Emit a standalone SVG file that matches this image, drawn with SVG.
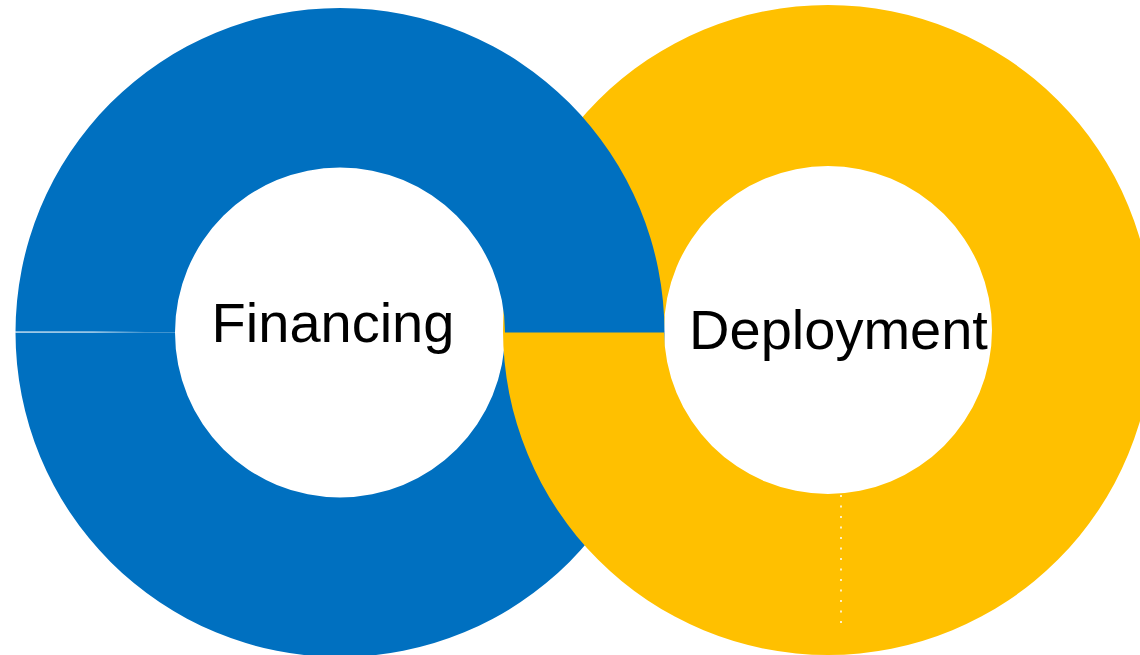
<svg xmlns="http://www.w3.org/2000/svg" width="1140" height="655" viewBox="0 0 1140 655">
  <style>
    .blue { fill: #0070C0; }
    .yellow { fill: #FFC000; }
    .label { font-family: "Liberation Sans", Arial, sans-serif; fill: #000000; text-anchor: middle; font-size: 56px; }
  </style>
  <defs>
    <linearGradient id="seamFade" x1="15" y1="0" x2="145" y2="0" gradientUnits="userSpaceOnUse">
      <stop offset="0" stop-color="#FFFFFF" stop-opacity="1"/>
      <stop offset="0.6" stop-color="#FFFFFF" stop-opacity="0.9"/>
      <stop offset="1" stop-color="#FFFFFF" stop-opacity="0"/>
    </linearGradient>
  </defs>
  <rect x="0" y="0" width="1140" height="655" fill="#FFFFFF"/>

  <!-- Financing ring: lower half sits beneath the Deployment ring -->
  <g id="financing-ring-lower">
    <path class="blue" d="M 15.5 332.5 L 175 332.5 A 165 165 0 0 0 505 332.5 L 664.5 332.5 A 324.5 324.5 0 0 1 15.5 332.5 Z"/>
  </g>

  <!-- Deployment ring -->
  <g id="deployment-ring">
    <path class="yellow" fill-rule="evenodd" d="M 503 330 A 325 325 0 1 1 1153 330 A 325 325 0 1 1 503 330 Z M 664 330 A 164 164 0 1 0 992 330 A 164 164 0 1 0 664 330 Z"/>
  </g>

  <!-- Financing ring: upper half passes over the Deployment ring -->
  <g id="financing-ring-upper">
    <path class="blue" d="M 15.5 332.5 A 324.5 324.5 0 0 1 664.5 332.5 L 505 332.5 A 165 165 0 0 0 175 332.5 Z"/>
  </g>

  <!-- thin seam between the two halves on the left, dotted guide in the lower yellow band -->
  <g id="connectors">
    <line x1="15" y1="332" x2="145" y2="332" stroke="url(#seamFade)" stroke-width="1.2"/>
    <line x1="841" y1="495" x2="841" y2="624" stroke="#FFFFFF" stroke-opacity="0.85" stroke-width="1.8" stroke-dasharray="2 8.5"/>
  </g>

  <g id="financing-label">
    <text class="label" x="333" y="342">Financing</text>
  </g>
  <g id="deployment-label">
    <text class="label" x="838.5" y="349">Deployment</text>
  </g>
</svg>
